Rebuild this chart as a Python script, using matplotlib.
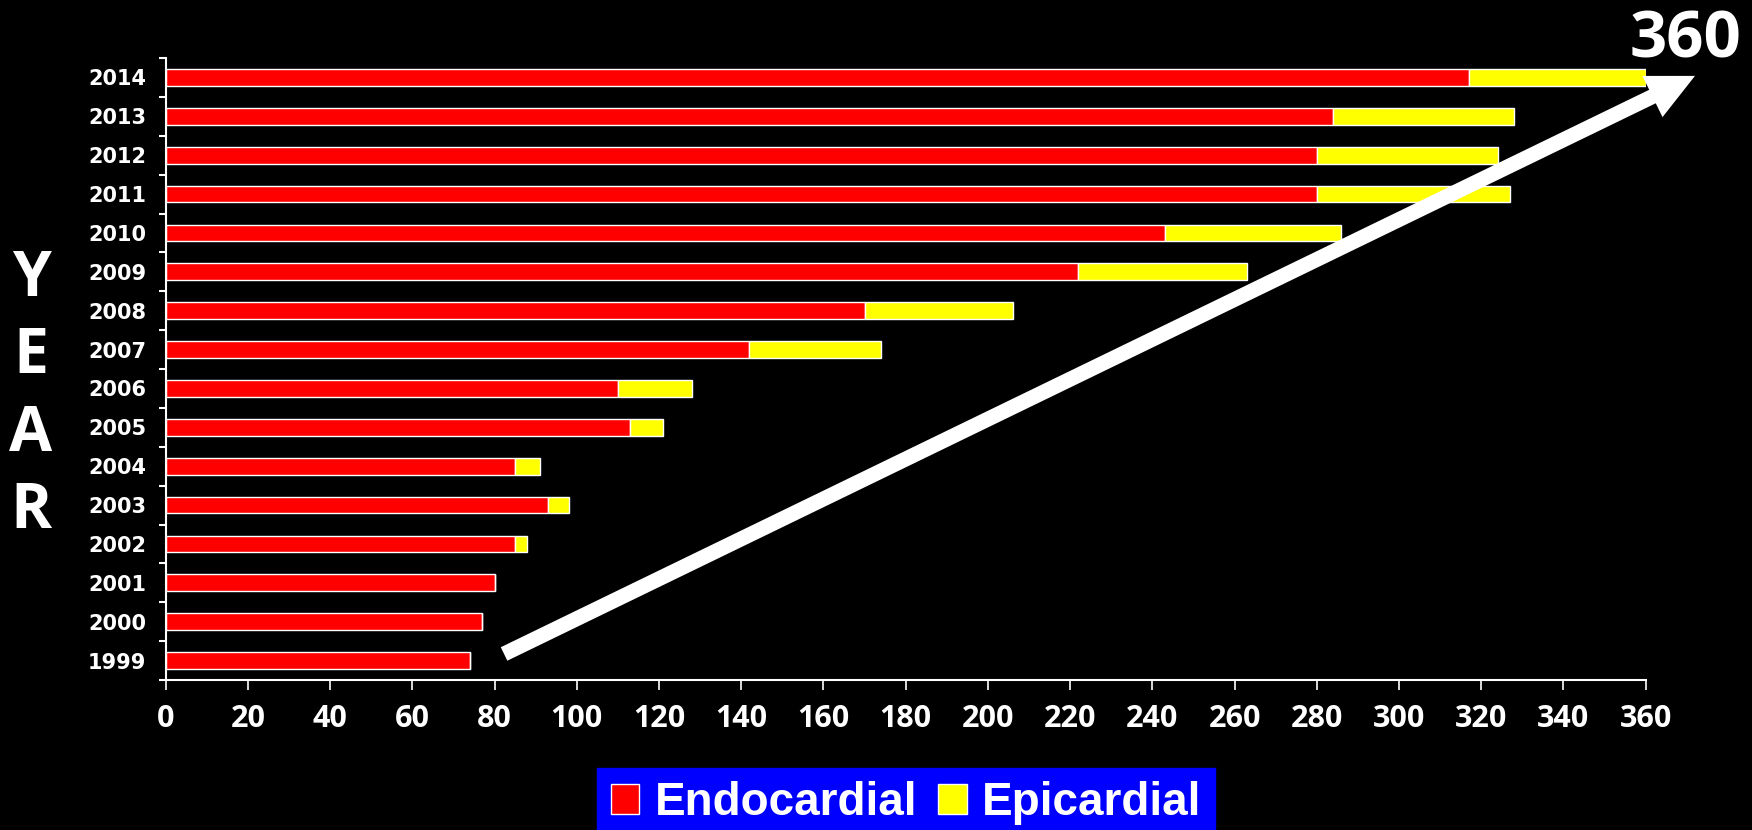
import matplotlib.pyplot as plt
from matplotlib.patches import Patch

# Data
years = ['1999', '2000', '2001', '2002', '2003', '2004', '2005', '2006',
         '2007', '2008', '2009', '2010', '2011', '2012', '2013', '2014']
endocardial = [74, 77, 80, 85, 93, 85, 113, 110, 142, 170, 222, 243, 280, 280, 284, 317]
epicardial = [0, 0, 0, 3, 5, 6, 8, 18, 32, 36, 41, 43, 47, 44, 44, 43]
xticks = list(range(0, 361, 20))

fig = plt.figure(figsize=(17.52, 8.3), dpi=100, facecolor='black')
ax = fig.add_axes([0.0946, 0.1807, 0.8447, 0.7494])
ax.set_facecolor('black')

pos = list(range(len(years)))
ax.barh(pos, endocardial, height=0.43, color='#ff0000', edgecolor='white', linewidth=1)
ax.barh(pos, epicardial, left=endocardial, height=0.43, color='#ffff00',
        edgecolor='white', linewidth=1)

ax.set_xlim(0, 360)
ax.set_ylim(-0.5, len(years) - 0.5)

# labels at bar centres, tick marks between bars
ax.set_yticks(pos)
ax.set_yticklabels(years, fontsize=15, fontweight='bold', color='white', family='DejaVu Sans')
ax.tick_params(axis='y', which='major', length=0, pad=14)
ax.set_yticks([p - 0.5 for p in pos] + [len(years) - 0.5], minor=True)
ax.tick_params(axis='y', which='minor', length=5, width=1.5, color='white')

ax.set_xticks(xticks)
ax.set_xticklabels([str(t) for t in xticks], fontsize=22, fontweight='bold',
                   color='white', family='Open Sans')
ax.tick_params(axis='x', length=7, width=1.2, color='white', pad=10)

for side in ['top', 'right']:
    ax.spines[side].set_visible(False)
for side in ['left', 'bottom']:
    ax.spines[side].set_color('white')
    ax.spines[side].set_linewidth(1.5)

# big growth arrow
ax.annotate('', xy=(372, 15.04), xytext=(82.3, 0.17),
            arrowprops=dict(arrowstyle='simple,head_length=34,head_width=33,tail_width=10.8',
                            mutation_scale=1, fc='white', ec='none', shrinkA=0, shrinkB=0),
            annotation_clip=False, zorder=5)

fig.text(0.994, 0.95, '360', fontsize=47, fontweight='bold', color='white',
         family='Open Sans', ha='right', va='center')

# vertical YEAR label
for i, letter in enumerate('YEAR'):
    fig.text(0.0177, 1 - (279 + i * 77.6) / 830, letter, fontsize=45, fontweight='bold',
             color='white', family='Open Sans', ha='center', va='center')

handles = [Patch(facecolor='#ff0000', edgecolor='white', label='Endocardial'),
           Patch(facecolor='#ffff00', edgecolor='white', label='Epicardial')]
leg = fig.legend(handles=handles, loc='lower center', bbox_to_anchor=(0.517, -0.011),
                 ncol=2, frameon=True, fancybox=False, borderaxespad=0,
                 prop={'family': 'Liberation Sans', 'weight': 'bold', 'size': 33},
                 handlelength=0.63, handleheight=0.63, handletextpad=0.33,
                 columnspacing=0.45, borderpad=0.3)
leg.get_frame().set_facecolor('#0000ff')
leg.get_frame().set_edgecolor('#0000ff')
leg.get_frame().set_alpha(1)
for t in leg.get_texts():
    t.set_color('white')

fig.savefig('out.png', dpi=100, facecolor='black')
